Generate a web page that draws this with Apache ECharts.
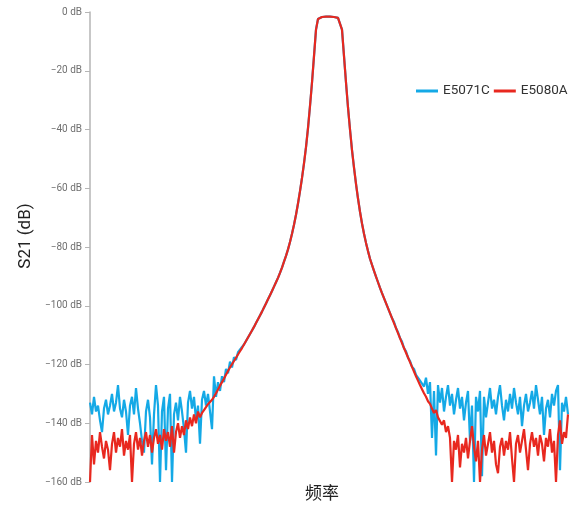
<!DOCTYPE html>
<html><head><meta charset="utf-8">
<script src="https://cdn.jsdelivr.net/npm/echarts@6/dist/echarts.min.js"></script>
<style>html,body{margin:0;padding:0;background:#fff}#c{width:579px;height:506px}</style>
</head><body><div id="c"></div>
<script>
// Series names (legend)
const seriesNames = ['E5071C', 'E5080A'];
// Axis names and y ticks
const xAxisName = '频率';
const yAxisName = 'S21 (dB)';
const yTickMin = -160, yTickMax = 0, yTickStep = 20, yUnit = ' dB';
// Frequency sample index runs 0..239 (left noise, shared skirt/passband, right noise)

// E5080A (red) left noise floor + skirt start, idx 0..77
const redLeft = [
  -160,-144,-154,-146,-150,-143,-148,-152,-146,-149,
  -156,-147,-143,-150,-145,-148,-142,-151,-146,-149,
  -144,-160,-147,-143,-149,-145,-151,-146,-143,-148,
  -144,-150,-145,-142,-147,-144,-149,-142,-146,-143,
  -148,-141,-150,-143,-140,-145,-141,-144,-139,-142,
  -138,-141,-137,-140,-136,-138,-136.5,-135.5,-135,-133.5,
  -133,-132,-131,-129.8,-128.5,-127.2,-126,-124.8,-123.5,-122.2,
  -121,-119.9,-118.8,-117.7,-116.6,-115.5,-114.4,-113.2
];
// E5071C (blue) left noise floor + skirt start, idx 0..77
const blueLeft = [
  -133,-137,-131,-136,-134,-139,-143,-135,-132,-137,
  -134,-130,-136,-133,-127,-135,-138,-132,-136,-144,
  -134,-131,-137,-128,-135,-140,-146,-150,-136,-132,
  -138,-154,-137,-127,-134,-160,-136,-131,-156,-135,
  -130,-160,-137,-133,-139,-131,-136,-142,-150,-133,
  -129,-135,-131,-139,-134,-147,-132,-129,-134,-130,
  -136,-142,-124,-131,-126,-129,-124,-126,-121.5,-123,
  -119,-121,-117.5,-118.5,-115.8,-116,-114,-113.2
];
// Shared filter response (both instruments coincide), idx 78..150
const skirt = [
  -112,-110.8,-109.6,-108.4,-107.2,-105.9,-104.6,-103.3,-102,-100.6,
  -99.2,-97.8,-96.4,-95,-93.5,-92,-90.5,-88.8,-87,-85,
  -83,-80.8,-78.3,-75.5,-72.4,-69,-65.2,-61,-56.5,-51.5,
  -46,-39.5,-32,-24,-15,-6,-2.4,-1.9,-1.7,-1.6,
  -1.6,-1.6,-1.6,-1.7,-1.7,-1.8,-2.0,-2.6,-6,-15,
  -24,-32.5,-40,-47,-53,-58.5,-63.5,-68,-72,-75.5,
  -78.6,-81.4,-84,-86.1,-88.1,-90.1,-92,-93.9,-95.7,-97.4,
  -99.1,-100.8,-102.5
];
// E5080A (red) right skirt + noise floor, idx 151..239
const redRight = [
  -104.2,-105.9,-107.6,-109.3,-111,-112.7,-114.4,-116,-117.6,-119.2,
  -120.8,-122.4,-124,-125.5,-127,-128.4,-129.8,-131,-132.5,-133.4,
  -135,-136.5,-135.5,-138,-137.5,-140.5,-139,-143,-141,-145,
  -160,-146,-149,-144,-155,-147,-150,-145,-152,-146,
  -141,-148,-153,-146,-160,-149,-144,-151,-147,-143,
  -150,-146,-154,-157,-148,-145,-151,-146,-149,-143,
  -152,-160,-147,-144,-150,-146,-142,-149,-156,-147,
  -143,-148,-145,-151,-144,-147,-153,-145,-148,-142,
  -150,-146,-160,-144,-139,-147,-143,-145,-137
];
// E5071C (blue) right skirt + noise floor, idx 151..239
const blueRight = [
  -104.2,-105.5,-107.6,-109,-111,-112.2,-114.4,-115.5,-117.6,-118.8,
  -120.8,-121.5,-123.5,-124,-125.5,-126,-127.5,-124.5,-130,-126,
  -145,-129,-151,-127,-133,-128,-136,-131,-127,-134,
  -130,-137,-132,-128,-135,-131,-139,-133,-129,-146,
  -134,-160,-131,-136,-129,-158,-131,-138,-133,-128,
  -135,-132,-137,-131,-127,-134,-139,-132,-136,-130,
  -135,-128,-133,-137,-131,-141,-134,-130,-136,-133,
  -129,-135,-127,-132,-137,-131,-144,-135,-132,-138,
  -130,-134,-129,-127,-156,-133,-136,-131,-137
];

const blueVals = blueLeft.concat(skirt, blueRight);
const redVals = redLeft.concat(skirt, redRight);
const toPairs = arr => arr.map((v, i) => [i, v]);

const chart = echarts.init(document.getElementById('c'), null, {renderer: 'canvas'});
chart.setOption({
  animation: false,
  backgroundColor: '#fff',
  textStyle: {fontFamily: 'Roboto, "Noto Sans CJK SC", sans-serif'},
  grid: {left: 90, right: 11, top: 12, bottom: 21},
  legend: {
    orient: 'horizontal', left: 416, top: 84, padding: 0, width: 163,
    icon: 'rect', itemWidth: 22, itemHeight: 3, itemGap: 4,
    textStyle: {fontSize: 13.5, color: '#333', fontFamily: 'Roboto'},
    data: seriesNames
  },
  xAxis: {
    type: 'value', min: 0, max: blueVals.length - 1,
    axisLine: {show: false}, axisTick: {show: false}, axisLabel: {show: false}, splitLine: {show: false},
    name: xAxisName, nameLocation: 'middle', nameGap: 2,
    nameTextStyle: {fontSize: 17, color: '#222', fontFamily: '"Noto Sans CJK SC"', padding: [0, 14, 0, 0]}
  },
  yAxis: {
    type: 'value', min: yTickMin, max: yTickMax, interval: yTickStep,
    axisLine: {show: true, lineStyle: {color: '#b5b5b5', width: 1.5}},
    axisTick: {show: true, length: 5, lineStyle: {color: '#b5b5b5', width: 1}},
    axisLabel: {
      fontSize: 10, color: '#707070', margin: 8, fontFamily: 'Roboto',
      formatter: v => (v < 0 ? '\u2212' + (-v) : String(v)) + yUnit
    },
    splitLine: {show: false},
    name: yAxisName, nameLocation: 'middle', nameGap: 56, nameRotate: 90,
    nameTextStyle: {fontSize: 17, color: '#222', fontFamily: 'Roboto', padding: [0, 0, 0, 22]}
  },
  series: [
    {name: seriesNames[0], type: 'line', data: toPairs(blueVals), symbol: 'none', showSymbol: false,
     lineStyle: {color: '#14a9e6', width: 2.2}, itemStyle: {color: '#14a9e6'}},
    {name: seriesNames[1], type: 'line', data: toPairs(redVals), symbol: 'none', showSymbol: false,
     lineStyle: {color: '#e8281f', width: 2.2}, itemStyle: {color: '#e8281f'}}
  ]
});
</script>
</body></html>
